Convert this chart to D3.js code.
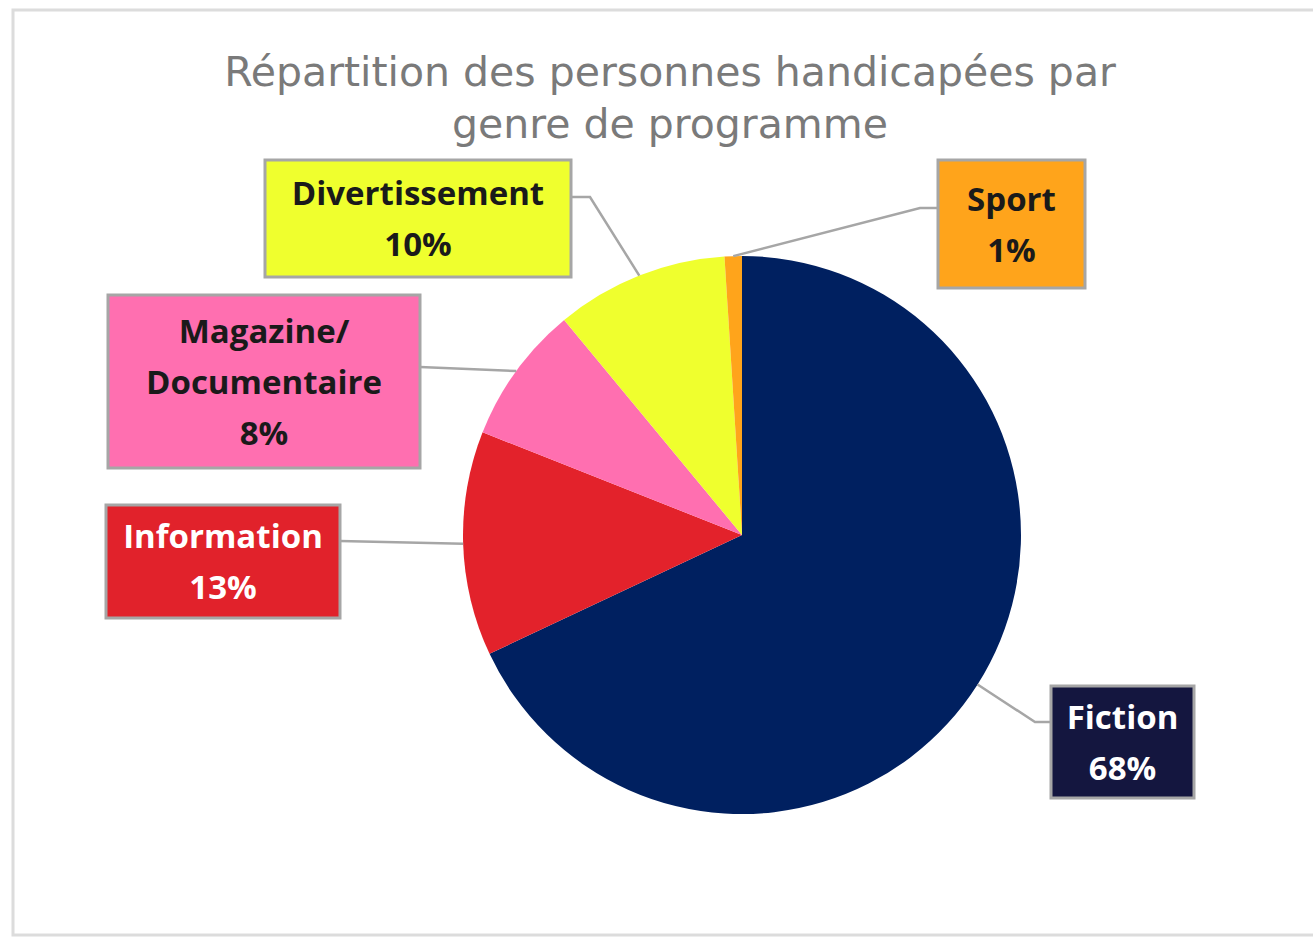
<!DOCTYPE html>
<html>
<head>
<meta charset="utf-8">
<script src="https://cdn.jsdelivr.net/npm/d3@7"></script>
<style>
  body { margin: 0; background: #fff; }
  svg { display: block; }
</style>
</head>
<body>
<svg id="chart" width="1313" height="937"></svg>
<script>
// data
var categories = ["Fiction", "Information", "Magazine/\nDocumentaire", "Divertissement", "Sport"];
var values = [68, 13, 8, 10, 1];
var valueLabels = ["68%", "13%", "8%", "10%", "1%"];
var sliceColors = ["#002060", "#e3222b", "#ff6fb0", "#efff2e", "#ffa41b"];
var boxColors = ["#14163f", "#e1222b", "#ff6fb0", "#efff2e", "#ffa41b"];
var textColors = ["#ffffff", "#ffffff", "#1a1a1a", "#1a1a1a", "#1a1a1a"];

// label box layout (x, y, w, h) and elbow of the leader line
var boxes = [
    {x: 1051, y: 686, w: 143, h: 112, side: "left", ey: 722, ex: 1035},
    {x: 106, y: 505, w: 234, h: 113, side: "right", ey: 541, ex: 340},
    {x: 108, y: 295, w: 312, h: 173, side: "right", ey: 367, ex: 420},
    {x: 265, y: 160, w: 306, h: 117, side: "right", ey: 197, ex: 590},
    {x: 938, y: 160, w: 147, h: 128, side: "left", ey: 208, ex: 920}
];

var svg = d3.select("#chart");
var cx = 742, cy = 535, r = 279;

// outer frame
svg.append("rect")
    .attr("x", 13).attr("y", 10)
    .attr("width", 1320).attr("height", 925)
    .attr("fill", "none")
    .attr("stroke", "#dcdcdc")
    .attr("stroke-width", 3);

// title
svg.append("text")
    .attr("text-anchor", "middle")
    .attr("font-family", "DejaVu Sans")
    .attr("font-size", 41)
    .attr("fill", "#7a7a7a")
    .selectAll("tspan")
    .data(["Répartition des personnes handicapées par", "genre de programme"])
    .join("tspan")
    .attr("x", 670)
    .attr("y", (d, i) => 86 + i * 52)
    .text(d => d);

var data = categories.map((c, i) => ({name: c, value: values[i], label: valueLabels[i], i: i}));

var pie = d3.pie().value(d => d.value).sort(null);
var arc = d3.arc().innerRadius(0).outerRadius(r);
var arcs = pie(data);

var g = svg.append("g").attr("transform", `translate(${cx},${cy})`);

g.selectAll("path")
    .data(arcs)
    .join("path")
    .attr("d", arc)
    .attr("fill", d => sliceColors[d.data.i]);

// leader lines
svg.append("g")
    .selectAll("polyline")
    .data(arcs)
    .join("polyline")
    .attr("fill", "none")
    .attr("stroke", "#a6a6a6")
    .attr("stroke-width", 2.5)
    .attr("points", d => {
        var b = boxes[d.data.i];
        var a = (d.startAngle + d.endAngle) / 2;
        var px = cx + r * Math.sin(a), py = cy - r * Math.cos(a);
        var bx = b.side === "left" ? b.x : b.x + b.w;
        return [[px, py], [b.ex, b.ey], [bx, b.ey]].map(p => p.join(",")).join(" ");
    });

// label boxes
var lg = svg.append("g")
    .selectAll("g")
    .data(data)
    .join("g");

lg.append("rect")
    .attr("x", d => boxes[d.i].x)
    .attr("y", d => boxes[d.i].y)
    .attr("width", d => boxes[d.i].w)
    .attr("height", d => boxes[d.i].h)
    .attr("fill", d => boxColors[d.i])
    .attr("stroke", "#a6a6a6")
    .attr("stroke-width", 3);

lg.append("text")
    .attr("text-anchor", "middle")
    .attr("font-family", "Open Sans")
    .attr("font-weight", "bold")
    .attr("font-size", 33)
    .attr("fill", d => textColors[d.i])
    .each(function (d) {
        var lines = d.name.split("\n").concat([d.label]);
        var b = boxes[d.i];
        var lh = 51;
        var y0 = b.y + b.h / 2 - (lines.length - 1) * lh / 2 + 12;
        d3.select(this).selectAll("tspan")
            .data(lines)
            .join("tspan")
            .attr("x", b.x + b.w / 2)
            .attr("y", (t, k) => y0 + k * lh)
            .text(t => t);
    });
</script>
</body>
</html>
